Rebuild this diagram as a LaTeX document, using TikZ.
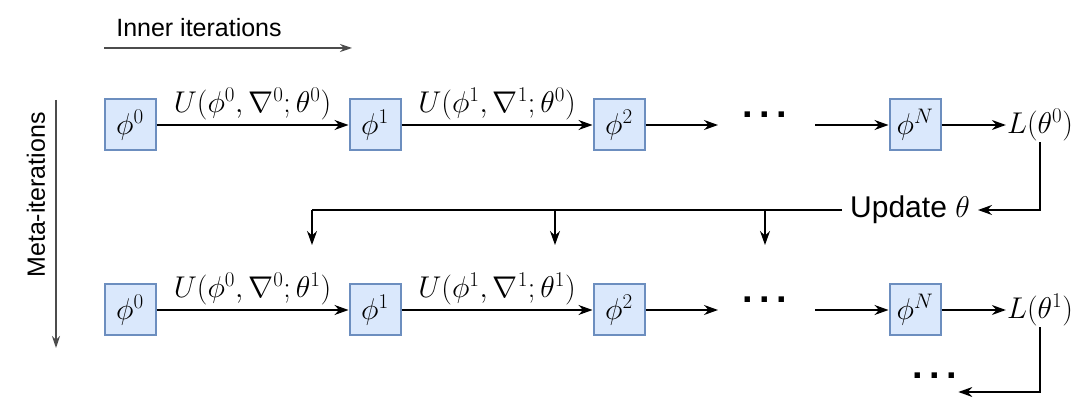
\documentclass[tikz,border=0pt]{standalone}
\usepackage{fontspec}
\setmainfont{Liberation Sans}
\usepackage{fix-cm}
\usetikzlibrary{arrows.meta}
\definecolor{bfill}{HTML}{DAE8FC}
\definecolor{bdraw}{HTML}{6C8EBF}
\begin{document}
\begin{tikzpicture}[x=1pt,y=-1pt,
  box/.style={draw=bdraw,fill=bfill,line width=2pt,minimum size=51pt,inner sep=0pt,font=\fontsize{30}{32}\selectfont},
  lbl/.style={font=\fontsize{30}{32}\selectfont,inner sep=1pt},
  dots/.style={font=\fontsize{38}{38}\selectfont\bfseries,inner sep=1pt},
  arr/.style={-{Stealth[length=14pt,width=10pt]},line width=1.5pt},
  garr/.style={-{Stealth[length=12pt,width=8pt]},line width=1.5pt,draw=black!70}]
\useasboundingbox (0,0) rectangle (1080,419);
% guides
\node[lbl,font=\fontsize{25}{28}\selectfont] (inner) at (199,28) {Inner iterations};
\coordinate (ia) at (104,48); \coordinate (ib) at (352,48);
\draw[garr] (ia) -- (ib);
\node[lbl,font=\fontsize{25}{28}\selectfont,rotate=90] (meta) at (36,195) {Meta-iterations};
\coordinate (ma) at (56,100); \coordinate (mb) at (56,348);
\draw[garr] (ma) -- (mb);
% rows
\foreach \r/\y/\t in {a/125/0,b/310/1}{
  \node[box] (p0\r) at (130,\y) {$\phi^0$};
  \node[box] (p1\r) at (375,\y) {$\phi^1$};
  \node[box] (p2\r) at (619,\y) {$\phi^2$};
  \node[dots] (d\r) at (765,\y-10) {.\,.\,.};
  \node[box] (pN\r) at (915,\y) {$\phi^N$};
  \node[lbl] (L\r) at (1040,\y) {$L(\theta^\t)$};
  \coordinate (e\r) at (718,\y);
  \coordinate (s\r) at (815,\y);
  \draw[arr] (p0\r) -- node[lbl,above=3pt] {$U(\phi^0,\nabla^0;\theta^\t)$} (p1\r);
  \draw[arr] (p1\r) -- node[lbl,above=3pt] {$U(\phi^1,\nabla^1;\theta^\t)$} (p2\r);
  \draw[arr] (p2\r) -- (e\r);
  \draw[arr] (s\r) -- (pN\r);
  \draw[arr] (pN\r) -- (L\r);
}
% update
\node[lbl,inner sep=8pt] (up) at (910,210) {Update $\theta$};
\coordinate (c1) at (1040,210);
\draw[arr] (La.south -| c1) -- (c1) -- (up.east);
\coordinate (u1) at (312,210); \coordinate (u2) at (555,210); \coordinate (u3) at (765,210);
\coordinate (v1) at (312,245); \coordinate (v2) at (555,245); \coordinate (v3) at (765,245);
\draw[line width=1.5pt] (up.west) -- (u1);
\draw[arr] (u1) -- (v1);
\draw[arr] (u2) -- (v2);
\draw[arr] (u3) -- (v3);
% bottom continuation
\node[dots] (dd) at (935,376) {.\,.\,.};
\coordinate (c2) at (1040,392);
\draw[arr] (Lb.south -| c2) -- (c2) -- (dd.east |- c2);
\end{tikzpicture}
\end{document}
